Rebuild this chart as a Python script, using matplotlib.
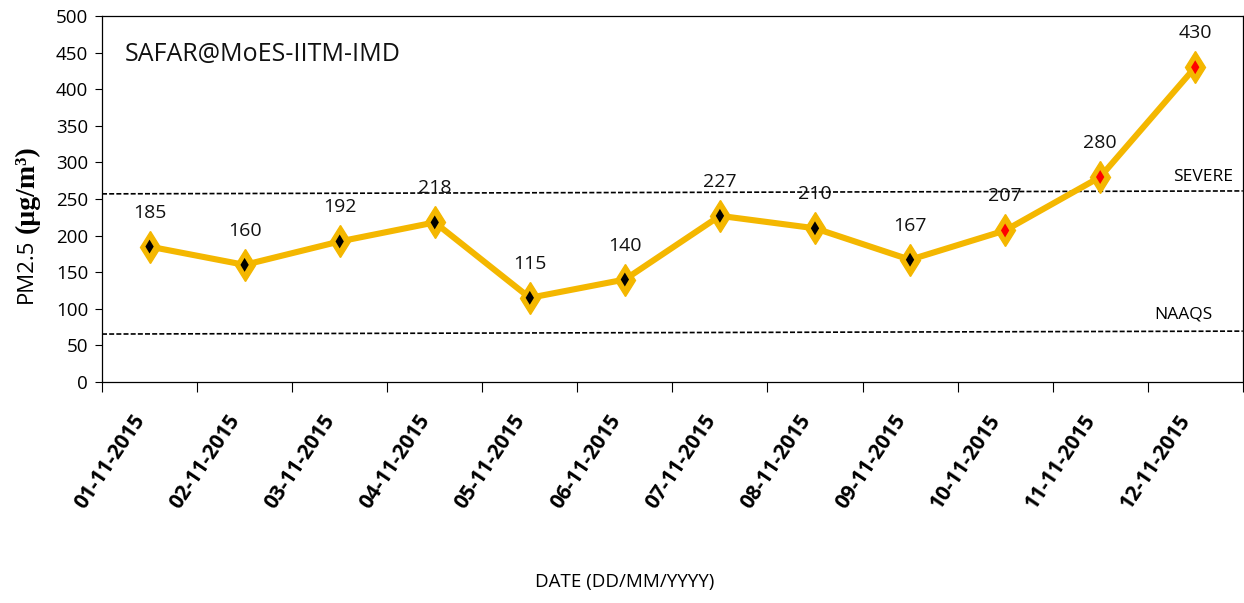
import matplotlib
matplotlib.use("Agg")
import matplotlib.pyplot as plt

# Data
dates = ['01-11-2015', '02-11-2015', '03-11-2015', '04-11-2015', '05-11-2015', '06-11-2015',
         '07-11-2015', '08-11-2015', '09-11-2015', '10-11-2015', '11-11-2015', '12-11-2015']
pm25 = [185, 160, 192, 218, 115, 140, 227, 210, 167, 207, 280, 430]
inner_colors = ['black'] * 9 + ['red'] * 3

# threshold lines (slightly sloped in the original)
severe_ends = [257, 261]
naaqs_ends = [65.5, 69.5]

LINE_COLOR = '#F4B700'
FONT = 'Open Sans'

fig = plt.figure(figsize=(12.44, 6.03), dpi=100)
ax = fig.add_axes([0.082, 0.3665, 0.917, 0.607])

x = list(range(len(dates)))
ax.plot(x, pm25, color=LINE_COLOR, lw=4.4, zorder=3, solid_joinstyle='round')
ax.plot(x, pm25, ls='none', marker='d', ms=16.5, mfc=LINE_COLOR, mec=LINE_COLOR, mew=1, zorder=4)
ax.scatter(x, pm25, marker='d', s=50, color=inner_colors, zorder=5, linewidths=0)

for xi, v in zip(x, pm25):
    ax.annotate(str(v), (xi, v), xytext=(0, 18), textcoords='offset points',
                ha='center', va='bottom', fontsize=14, family=FONT, color='#111111', zorder=6)

ax.plot([-0.5, 11.5], severe_ends, ls='--', color='black', lw=1.2, dashes=(3, 1.3), zorder=2)
ax.plot([-0.5, 11.5], naaqs_ends, ls='--', color='black', lw=1.2, dashes=(3, 1.3), zorder=2)
ax.text(11.4, 269, 'SEVERE', ha='right', va='bottom', fontsize=12.5, family=FONT)
ax.text(11.18, 81, 'NAAQS', ha='right', va='bottom', fontsize=12.5, family=FONT)

ax.text(0.02, 0.895, 'SAFAR@MoES-IITM-IMD', transform=ax.transAxes, fontsize=18,
        family=FONT, va='center', ha='left', color='#111111')

ax.set_xlim(-0.5, 11.5)
ax.set_ylim(0, 500)
ax.set_yticks(range(0, 501, 50))
ax.set_xticks([i - 0.5 for i in range(13)], minor=False)
ax.set_xticklabels([])
ax.set_xticks(x, minor=True)
ax.set_xticklabels(dates, minor=True, rotation=56, ha='right', va='bottom',
                   rotation_mode='anchor', fontsize=15, fontweight='bold', family=FONT)
ax.tick_params(axis='x', which='minor', length=0, pad=29)
ax.tick_params(axis='x', which='major', length=7, direction='out')
ax.tick_params(axis='y', length=5, labelsize=13.5, pad=5)
for lab in ax.get_yticklabels():
    lab.set_family(FONT)

# y label: sans "PM2.5" followed by bold serif units
pm_txt = fig.text(0.0215, 1 - 303 / 603, 'PM2.5', rotation=90, ha='center', va='bottom',
                  fontsize=16, family=FONT)
fig.canvas.draw()
ax.annotate('(µg/m³)', xy=(0.5, 1), xycoords=pm_txt, xytext=(0, 4), textcoords='offset points',
            rotation=90, ha='center', va='bottom', fontsize=20, fontweight='bold',
            family='Liberation Serif', annotation_clip=False)

fig.text(0.502, 0.035, 'DATE (DD/MM/YYYY)', ha='center', va='center', fontsize=13.5, family=FONT)

for s in ax.spines.values():
    s.set_linewidth(0.9)

fig.savefig('out.png', dpi=100)
